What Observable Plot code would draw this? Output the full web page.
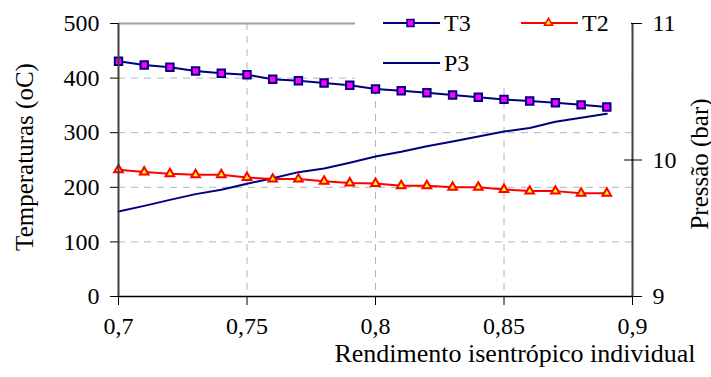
<!DOCTYPE html>
<html>
<head>
<meta charset="utf-8">
<script src="https://cdn.jsdelivr.net/npm/d3@7"></script>
<script src="https://cdn.jsdelivr.net/npm/@observablehq/plot@0.6"></script>
<style>
  body { margin: 0; background: #fff; }
  #chart svg { display: block; }
  #chart svg, #chart svg text { font-family: "Liberation Serif", "Times New Roman", serif !important; }
</style>
</head>
<body>
<div id="chart"></div>
<script>
// Rendimento isentrópico individual (eixo x)
const rendimento = [0.70, 0.71, 0.72, 0.73, 0.74, 0.75, 0.76, 0.77, 0.78, 0.79,
                    0.80, 0.81, 0.82, 0.83, 0.84, 0.85, 0.86, 0.87, 0.88, 0.89];
// Temperaturas (oC)
const T3 = [431, 424, 420, 413, 409, 406, 398, 395, 391, 387,
            380, 377, 373, 369, 365, 361, 358, 355, 351, 347];
const T2 = [232, 228, 225, 223, 223, 218, 215, 215, 211, 208,
            207, 203, 203, 200, 200, 196, 193, 193, 189, 189];
// Pressão (bar), eixo secundário
const P3 = [9.623, 9.664, 9.708, 9.750, 9.782, 9.826, 9.867, 9.911, 9.938, 9.980,
            10.026, 10.060, 10.100, 10.135, 10.172, 10.209, 10.235, 10.280, 10.310, 10.338];

const ticksX = [0.7, 0.75, 0.8, 0.85, 0.9];
const ticksT = [0, 100, 200, 300, 400, 500];
const ticksP = [9, 10, 11];

// The pressure axis (9–11 bar) is mapped onto the temperature axis (0–500 °C)
const pMin = 9, pMax = 11, tMin = 0, tMax = 500;
const pToT = p => tMin + (p - pMin) / (pMax - pMin) * (tMax - tMin);
const tToP = t => +(pMin + (t - tMin) / (tMax - tMin) * (pMax - pMin)).toFixed(3);
const virgula = d => String(d).replace(".", ",");

const rows = rendimento.map((x, i) => ({x, T3: T3[i], T2: T2[i], P3: pToT(P3[i])}));

const navy = "#000080", red = "#ff0000";
const grid = {stroke: "#b4b4b4", strokeOpacity: 1, strokeDasharray: "7,6"};

const chart = Plot.plot({
  width: 711,
  height: 377,
  marginLeft: 118,
  marginRight: 79,
  marginTop: 23,
  marginBottom: 81,
  style: {fontSize: "24px", color: "#000", background: "#fff"},
  x: {domain: [0.7, 0.9]},
  y: {domain: [0, 500]},
  marks: [
    Plot.gridY(ticksT.slice(1, -1), grid),
    Plot.gridX(ticksX.slice(1, -1), grid),
    Plot.ruleY([tMax], {stroke: "#a0a0a0", strokeWidth: 2}),
    Plot.line(rows, {x: "x", y: "P3", stroke: navy, strokeWidth: 2}),
    Plot.line(rows, {x: "x", y: "T2", stroke: red, strokeWidth: 2}),
    Plot.dot(rows, {x: "x", y: "T2", symbol: "triangle", r: 3.2, fill: "#ffff00", stroke: red, strokeWidth: 2}),
    Plot.line(rows, {x: "x", y: "T3", stroke: navy, strokeWidth: 2}),
    Plot.dot(rows, {x: "x", y: "T3", symbol: "square", r: 4.2, fill: "#ff00ff", stroke: navy, strokeWidth: 2}),
    Plot.ruleY([tMin], {stroke: "#000", strokeWidth: 1.5}),
    Plot.ruleX([0.7], {stroke: "#404040", strokeWidth: 2}),
    Plot.ruleX([0.9], {stroke: "#404040", strokeWidth: 2}),
    Plot.axisX(ticksX, {tickSize: 9, tickPadding: 11, tickFormat: virgula, label: null}),
    Plot.axisY(ticksT, {tickSize: 8, tickPadding: 11, label: null}),
    Plot.axisY(ticksP.map(pToT), {anchor: "right", tickSize: 9, tickPadding: 11, tickFormat: t => tToP(t), label: null}),
    Plot.axisY(ticksP.map(pToT), {anchor: "right", tickSize: 9, dx: -9, tickFormat: () => "", label: null}),
    Plot.text(["Temperaturas (oC)"], {text: d => d, frameAnchor: "left", textAnchor: "middle", dx: -94, dy: -3, rotate: -90, fontSize: 25}),
    Plot.text(["Pressão (bar)"], {text: d => d, frameAnchor: "right", textAnchor: "middle", dx: 67, dy: 4, rotate: -90, fontSize: 25}),
    Plot.text(["Rendimento isentrópico individual"], {text: d => d, frameAnchor: "bottom-right", textAnchor: "end", dx: 63, dy: 65, fontSize: 26})
  ]
});

document.getElementById("chart").appendChild(chart);

// Legend box drawn over the upper right part of the plot area
const svg = d3.select(chart);
const lg = svg.append("g").attr("font-size", 24).attr("fill", "#000").attr("text-anchor", "start");
lg.append("rect").attr("x", 355).attr("y", 0).attr("width", 276).attr("height", 83).attr("fill", "#fff");

const items = [
  {name: "T3", x: 383, y: 23, stroke: navy, marker: "square"},
  {name: "T2", x: 521, y: 23, stroke: red, marker: "triangle"},
  {name: "P3", x: 383, y: 63, stroke: navy, marker: null}
];
for (const it of items) {
  lg.append("line").attr("x1", it.x).attr("x2", it.x + 57).attr("y1", it.y).attr("y2", it.y)
    .attr("stroke", it.stroke).attr("stroke-width", 2);
  const cx = it.x + 27.5;
  if (it.marker === "square") {
    lg.append("rect").attr("x", cx - 3.5).attr("y", it.y - 3.5).attr("width", 7).attr("height", 7)
      .attr("fill", "#ff00ff").attr("stroke", navy).attr("stroke-width", 1.5);
  } else if (it.marker === "triangle") {
    lg.append("path").attr("transform", `translate(${cx},${it.y})`)
      .attr("d", d3.symbol(d3.symbolTriangle, 28)())
      .attr("fill", "#ffff00").attr("stroke", red).attr("stroke-width", 1.5);
  }
  lg.append("text").attr("x", it.x + 61).attr("y", it.y).attr("dy", "0.34em")
    .attr("text-anchor", "start").text(it.name);
}
</script>
</body>
</html>
